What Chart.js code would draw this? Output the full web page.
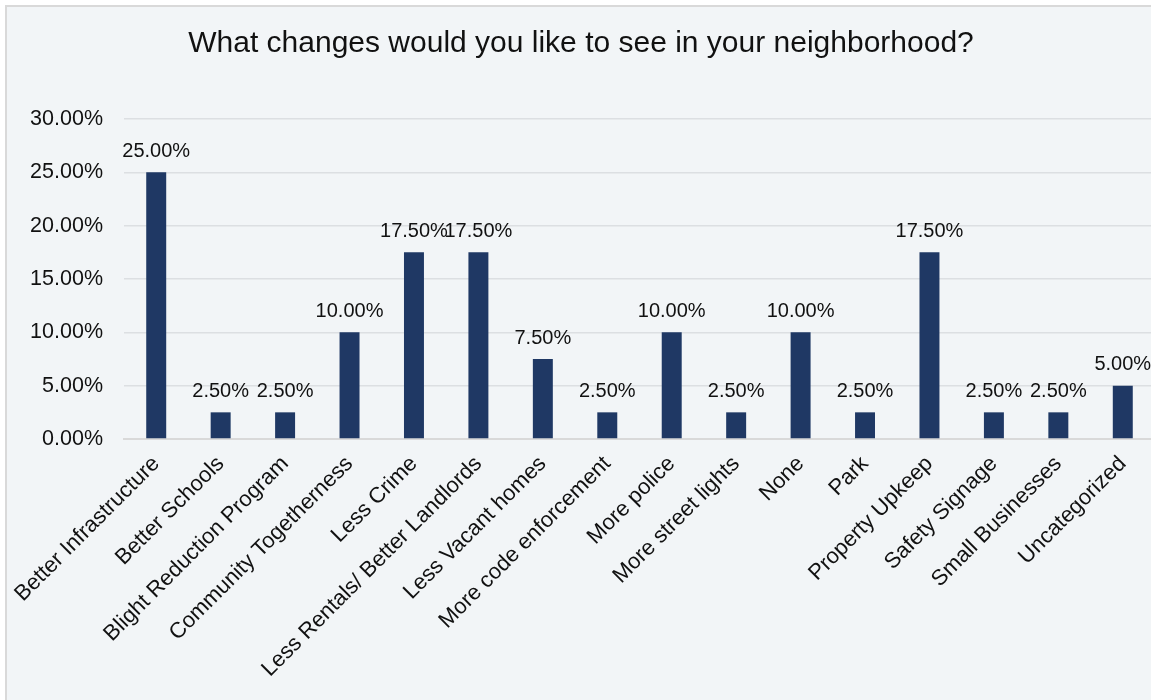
<html>

<head>
    <meta charset="utf-8">
    <title>Neighborhood changes</title>
    <script src="https://cdn.jsdelivr.net/npm/chart.js@4.4.1/dist/chart.umd.min.js"></script>
    <style>
        html, body { margin: 0; padding: 0; background: #fff; overflow: hidden; }
        #box {
            position: absolute; left: 5px; top: 5px;
            width: 1152px; height: 700px;
            background: #f2f5f7;
            border-left: 2px solid #d9d9d9; border-top: 2px solid #d9d9d9;
        }
    </style>
</head>

<body>
    <div id="box">
        <canvas id="myChart"></canvas>
    </div>
    <script>
        const categories = [
            'Better Infrastructure', 'Better Schools', 'Blight Reduction Program', 'Community Togetherness',
            'Less Crime', 'Less Rentals/ Better Landlords', 'Less Vacant homes', 'More code enforcement',
            'More police', 'More street lights', 'None', 'Park', 'Property Upkeep', 'Safety Signage',
            'Small Businesses', 'Uncategorized'
        ];
        const shares = [25, 2.5, 2.5, 10, 17.5, 17.5, 7.5, 2.5, 10, 2.5, 10, 2.5, 17.5, 2.5, 2.5, 5];
        const yTicks = [0, 5, 10, 15, 20, 25, 30];

        const FONT = 'Liberation Sans, Arial, sans-serif';
        const pct = v => v.toFixed(2) + '%';

        // value labels above each bar
        const barLabels = {
            id: 'barLabels',
            afterDatasetsDraw(chart) {
                const ctx = chart.ctx;
                const meta = chart.getDatasetMeta(0);
                ctx.save();
                ctx.font = '20px ' + FONT;
                ctx.fillStyle = '#111';
                ctx.textAlign = 'center';
                ctx.textBaseline = 'middle';
                meta.data.forEach((bar, i) => {
                    ctx.fillText(pct(shares[i]), bar.x, bar.y - 21);
                });
                ctx.restore();
            }
        };

        const canvas = document.getElementById('myChart');
        canvas.width = 1148;
        canvas.height = 695;

        const myChart = new Chart(canvas, {
            type: 'bar',
            data: {
                labels: categories,
                datasets: [{
                    data: shares,
                    backgroundColor: '#1f3864',
                    barPercentage: 0.31,
                    categoryPercentage: 1
                }]
            },
            options: {
                responsive: false,
                animation: false,
                layout: { padding: 0 },
                plugins: {
                    legend: { display: false },
                    tooltip: { enabled: false },
                    title: {
                        display: true,
                        text: 'What changes would you like to see in your neighborhood?',
                        color: '#111',
                        font: { family: FONT, size: 30, weight: 'normal' },
                        padding: { top: 19, bottom: 57 }
                    }
                },
                scales: {
                    x: {
                        grid: { display: false },
                        border: { color: '#d9d9d9', width: 2 },
                        ticks: {
                            color: '#111',
                            font: { family: FONT, size: 22 },
                            minRotation: 45,
                            maxRotation: 45,
                            autoSkip: false,
                            padding: 4
                        },
                        afterFit(scale) { scale.height = 695 - 432; }
                    },
                    y: {
                        min: 0,
                        max: 30,
                        afterBuildTicks(scale) { scale.ticks = yTicks.map(v => ({ value: v })); },
                        grid: { color: '#dcdfe2', lineWidth: 1.5, drawTicks: false },
                        border: { display: false },
                        ticks: {
                            color: '#111',
                            font: { family: FONT, size: 21.5 },
                            padding: 21,
                            callback: v => pct(v)
                        },
                        afterFit(scale) { scale.width = 117; }
                    }
                }
            },
            plugins: [barLabels]
        });
    </script>
</body>

</html>
